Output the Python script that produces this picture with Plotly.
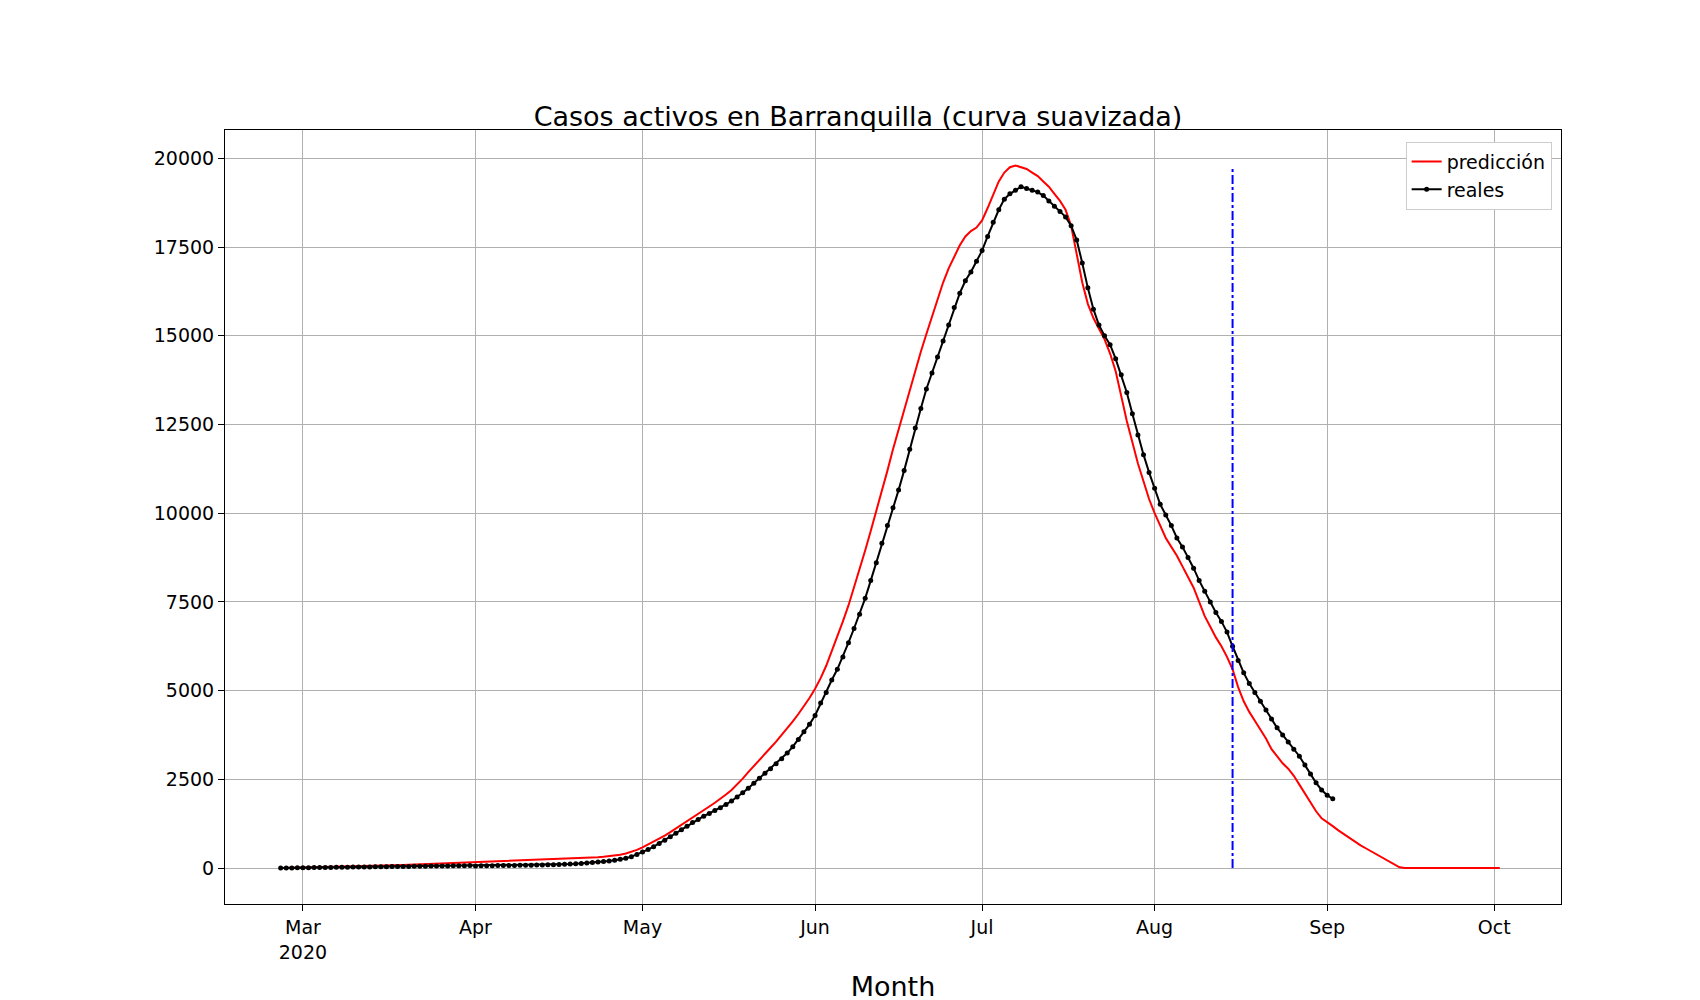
import pandas as pd
import plotly.graph_objects as go

# casos activos reales, diarios desde 2020-02-26
reales_feb = [0, 2, 4, 6]
reales_mar = [8, 10, 12, 14, 16, 18, 20, 22, 24, 26, 28, 30, 32, 34, 36, 38, 40, 42, 44, 46,
              48, 50, 52, 54, 56, 58, 60, 62, 64, 66, 68]
reales_abr = [60, 62, 64, 66, 68, 70, 72, 74, 76, 78, 80, 83, 86, 90, 95, 100, 105, 112, 120, 130,
              142, 155, 170, 185, 200, 220, 245, 275, 320, 380]
reales_may = [450, 520, 600, 690, 780, 880, 980, 1080, 1180, 1280, 1370, 1460, 1540, 1620, 1700,
              1790, 1890, 2000, 2120, 2250, 2390, 2530, 2670, 2800, 2940, 3080, 3240, 3420, 3620,
              3840, 4050]
reales_jun = [4300, 4650, 4950, 5300, 5600, 5950, 6350, 6750, 7150, 7600, 8100, 8600, 9150, 9650,
              10150, 10650, 11200, 11800, 12400, 12950, 13500, 13950, 14400, 14850, 15300, 15800,
              16200, 16550, 16800, 17100]
reales_jul = [17400, 17800, 18200, 18550, 18850, 19000, 19100, 19200, 19150, 19100, 19050, 18950,
              18800, 18650, 18500, 18350, 18100, 17700, 17050, 16350, 15750, 15300, 15000, 14750,
              14350, 13900, 13400, 12800, 12200, 11650, 11150]
reales_ago = [10700, 10250, 9950, 9650, 9300, 9050, 8750, 8450, 8100, 7800, 7500, 7200, 6950, 6650,
              6250, 5850, 5500, 5200, 4950, 4700, 4450, 4200, 3950, 3750, 3550, 3350, 3150, 2900,
              2650, 2400, 2200]
reales_sep = [2050, 1950]

# prediccion, diaria desde 2020-02-26
pred_feb = [0, 3, 6, 9]
pred_mar = [12, 15, 18, 21, 24, 27, 30, 34, 38, 42, 46, 50, 55, 60, 65, 70, 75, 80, 86, 92, 98,
            104, 110, 116, 122, 128, 134, 140, 146, 152, 158]
pred_abr = [165, 170, 175, 180, 185, 190, 195, 200, 205, 210, 215, 220, 225, 230, 236, 242, 248,
            255, 262, 270, 280, 290, 302, 315, 330, 350, 375, 410, 455, 510]
pred_may = [580, 660, 740, 825, 915, 1010, 1110, 1210, 1315, 1420, 1525, 1630, 1735, 1840, 1950,
            2070, 2200, 2350, 2520, 2700, 2880, 3050, 3220, 3390, 3560, 3740, 3930, 4130, 4340,
            4560, 4790]
pred_jun = [5050, 5350, 5700, 6100, 6500, 6950, 7400, 7900, 8400, 8950, 9500, 10050, 10650, 11200,
            11800, 12350, 12950, 13500, 14050, 14550, 15050, 15550, 16050, 16500, 16900, 17250,
            17550, 17800, 17950, 18050]
pred_jul = [18250, 18600, 19000, 19350, 19600, 19750, 19800, 19750, 19700, 19600, 19500, 19350,
            19200, 19000, 18800, 18550, 18100, 17300, 16500, 15900, 15500, 15200, 14900, 14500,
            14000, 13300, 12600, 12000, 11400, 10900, 10400]
pred_ago = [10000, 9650, 9300, 9050, 8800, 8500, 8200, 7900, 7500, 7100, 6800, 6500, 6250, 5950,
            5600, 5100, 4700, 4400, 4150, 3900, 3650, 3350, 3150, 2950, 2800, 2600, 2350, 2100,
            1850, 1600, 1400]
pred_sep = [1300, 1180, 1060, 950, 840, 740, 640, 550, 460, 370, 280, 190, 100, 20,
            0, 0, 0, 0, 0, 0, 0, 0, 0, 0, 0, 0, 0, 0, 0, 0]
pred_oct = [0, 0]

reales = reales_feb + reales_mar + reales_abr + reales_may + reales_jun + reales_jul + reales_ago + reales_sep
pred = pred_feb + pred_mar + pred_abr + pred_may + pred_jun + pred_jul + pred_ago + pred_sep + pred_oct

fechas_reales = pd.date_range("2020-02-26", periods=len(reales), freq="D")
fechas_pred = pd.date_range("2020-02-26", periods=len(pred), freq="D")

corte = "2020-08-15"
corte_y = [0, 19750]

tick_fechas = ["2020-03-01", "2020-04-01", "2020-05-01", "2020-06-01", "2020-07-01",
               "2020-08-01", "2020-09-01", "2020-10-01"]
tick_textos = ["Mar<br>2020", "Apr", "May", "Jun", "Jul", "Aug", "Sep", "Oct"]
y_ticks = [0, 2500, 5000, 7500, 10000, 12500, 15000, 17500, 20000]

fig = go.Figure()
fig.add_trace(go.Scatter(x=fechas_pred, y=pred, mode="lines", name="predicción",
                         line=dict(color="red", width=2)))
fig.add_trace(go.Scatter(x=fechas_reales, y=reales, mode="lines+markers", name="reales",
                         line=dict(color="black", width=2), marker=dict(size=5, color="black")))
fig.add_trace(go.Scatter(x=[corte, corte], y=corte_y, mode="lines", showlegend=False,
                         line=dict(color="blue", width=2, dash="dashdot")))

axis_common = dict(showline=True, linecolor="black", linewidth=1, mirror=True,
                   showgrid=True, gridcolor="#b0b0b0", gridwidth=1, zeroline=False,
                   ticks="outside", ticklen=6, tickcolor="black",
                   tickfont=dict(size=19, color="black"))

fig.update_layout(
    width=1700, height=1000,
    paper_bgcolor="white", plot_bgcolor="white",
    font=dict(family="DejaVu Sans", color="black"),
    title=dict(text="Casos activos en Barranquilla (curva suavizada)", x=0.5, xanchor="center",
               y=0.882, yanchor="bottom", font=dict(size=27)),
    margin=dict(l=217, r=147, t=122, b=97),
    xaxis=dict(range=["2020-02-16", "2020-10-13"], tickvals=tick_fechas, ticktext=tick_textos,
               title=dict(text="Month", font=dict(size=27)), **axis_common),
    yaxis=dict(range=[-1014, 20799], tickvals=y_ticks, tickformat="d", **axis_common),
    legend=dict(x=0.993, y=0.985, xanchor="right", yanchor="top", bgcolor="white",
                bordercolor="#cccccc", borderwidth=1, font=dict(size=19)),
)

fig.write_html("out.html")
